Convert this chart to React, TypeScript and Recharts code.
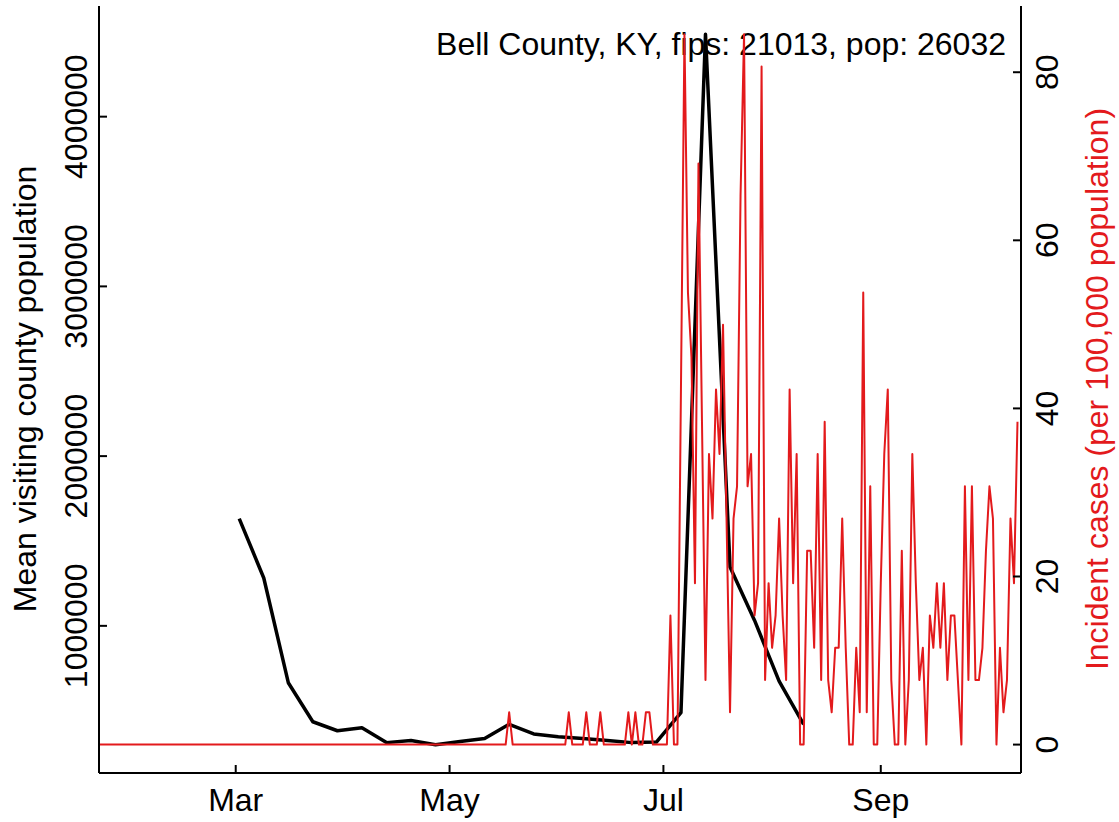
import { Line, LineChart, XAxis, YAxis } from "recharts";

const countyTitle = "Bell County, KY, fips: 21013, pop: 26032";
const leftAxisTitle = "Mean visiting county population";
const rightAxisTitle = "Incident cases (per 100,000 population)";

// day of year 2020
const monthTickDays = [61, 122, 183, 245];
const monthTickLabels = ["Mar", "May", "Jul", "Sep"];
const visitTicks = [1000000, 2000000, 3000000, 4000000];
const caseTicks = [0, 20, 40, 60, 80];

// weekly mean visiting population
const visitDays = [
    62, 69, 76, 83, 90, 97, 104, 111, 118, 125, 132, 139,
    146, 153, 160, 167, 174, 181, 188, 195, 202, 209, 216, 223,
];
const meanVisitingPop = [
    1632000, 1282000, 665000, 435000, 382000, 400000, 312000, 324000, 300000, 318000, 336000, 420000,
    363000, 347000, 336000, 324000, 312000, 315000, 488000, 4485000, 1347000, 1032000, 674000, 420000,
];

// daily incident cases per 100k, starting Jan 22
const caseFirstDay = 22;
const incidentCases = [
    0, 0, 0, 0, 0, 0, 0, 0, 0, 0,
    0, 0, 0, 0, 0, 0, 0, 0, 0, 0,
    0, 0, 0, 0, 0, 0, 0, 0, 0, 0,
    0, 0, 0, 0, 0, 0, 0, 0, 0, 0,
    0, 0, 0, 0, 0, 0, 0, 0, 0, 0,
    0, 0, 0, 0, 0, 0, 0, 0, 0, 0,
    0, 0, 0, 0, 0, 0, 0, 0, 0, 0,
    0, 0, 0, 0, 0, 0, 0, 0, 0, 0,
    0, 0, 0, 0, 0, 0, 0, 0, 0, 0,
    0, 0, 0, 0, 0, 0, 0, 0, 0, 0,
    0, 0, 0, 0, 0, 0, 0, 0, 0, 0,
    0, 0, 0, 0, 0, 0, 0, 3.84, 0, 0,
    0, 0, 0, 0, 0, 0, 0, 0, 0, 0,
    0, 0, 0, 0, 3.84, 0, 0, 0, 0, 3.84,
    0, 0, 0, 3.84, 0, 0, 0, 0, 0, 0,
    0, 3.84, 0, 3.84, 0, 0, 3.84, 3.84, 0, 0,
    0, 0, 0, 15.37, 0, 0, 42.26, 84.51, 53.78, 46.1,
    19.21, 69.15, 38.41, 7.68, 34.57, 26.89, 42.26, 34.57, 49.94, 26.89,
    3.84, 26.89, 30.73, 65.3, 84.51, 30.73, 34.57, 15.37, 19.21, 80.67,
    7.68, 19.21, 11.52, 15.37, 26.89, 15.37, 7.68, 42.26, 19.21, 34.57,
    0, 0, 23.05, 23.05, 11.52, 34.57, 7.68, 38.41, 7.68, 3.84,
    11.52, 11.52, 26.89, 11.52, 0, 0, 11.52, 3.84, 53.78, 3.84,
    30.73, 0, 0, 19.21, 34.57, 42.26, 7.68, 0, 0, 23.05,
    0, 7.68, 34.57, 19.21, 7.68, 11.52, 0, 15.37, 11.52, 19.21,
    11.52, 19.21, 7.68, 15.37, 15.37, 7.68, 0, 30.73, 7.68, 30.73,
    7.68, 7.68, 11.52, 23.05, 30.73, 26.89, 0, 11.52, 3.84, 7.68,
    26.89, 19.21, 38.41,
];

const FONT = "'Liberation Sans', Arial, Helvetica, sans-serif";
const FONT_SIZE = 32;
const RED = "#E31A1C";

function LeftTick(props: any) {
    const { x, y, payload } = props;
    return (
        <g>
            <line x1={x} x2={x + 8} y1={y} y2={y} stroke="#000" strokeWidth={2} />
            <text
                transform={`translate(${x - 12},${y}) rotate(-90)`}
                textAnchor="middle"
                fontSize={FONT_SIZE}
                fontFamily={FONT}
                fill="#000"
            >
                {payload.value}
            </text>
        </g>
    );
}

function RightTick(props: any) {
    const { x, y, payload } = props;
    return (
        <g>
            <line x1={x - 8} x2={x} y1={y} y2={y} stroke="#000" strokeWidth={2} />
            <text
                transform={`translate(${x + 37},${y}) rotate(-90)`}
                textAnchor="middle"
                fontSize={FONT_SIZE}
                fontFamily={FONT}
                fill="#000"
            >
                {payload.value}
            </text>
        </g>
    );
}

function MonthTick(props: any) {
    const { x, y, payload } = props;
    const label = monthTickLabels[monthTickDays.indexOf(payload.value)];
    return (
        <g>
            <line x1={x} x2={x} y1={y - 8} y2={y} stroke="#000" strokeWidth={2} />
            <text x={x} y={y + 38} textAnchor="middle" fontSize={FONT_SIZE} fontFamily={FONT} fill="#000">
                {label}
            </text>
        </g>
    );
}

export default function App() {
    const visitData = visitDays.map((day, i) => ({ day, visits: meanVisitingPop[i] }));
    const caseData = incidentCases.map((cases, i) => ({ day: caseFirstDay + i, cases }));

    return (
        <div style={{ position: "absolute", left: 0, top: 0, width: 1119, height: 822, background: "#fff" }}>
            {/* titles sit underneath the plotted lines, like in the R output */}
            <svg width={1119} height={822} style={{ position: "absolute", left: 0, top: 0 }}>
                <text x={1006} y={55} textAnchor="end" fontSize={FONT_SIZE} fontFamily={FONT} fill="#000">
                    {countyTitle}
                </text>
                <text
                    transform="translate(36,389) rotate(-90)"
                    textAnchor="middle"
                    fontSize={FONT_SIZE}
                    fontFamily={FONT}
                    fill="#000"
                >
                    {leftAxisTitle}
                </text>
                <text
                    transform="translate(1108,389) rotate(-90)"
                    textAnchor="middle"
                    fontSize={FONT_SIZE}
                    fontFamily={FONT}
                    fill={RED}
                >
                    {rightAxisTitle}
                </text>
            </svg>
            <div style={{ position: "absolute", left: 0, top: 0 }}>
                <LineChart width={1119} height={822} margin={{ top: 6, right: 0, bottom: 0, left: 0 }}>
                    <XAxis
                        xAxisId="top"
                        orientation="top"
                        type="number"
                        dataKey="day"
                        domain={[22, 285]}
                        height={0}
                        tick={false}
                        tickLine={false}
                        axisLine={{ stroke: "#000", strokeWidth: 2 }}
                    />
                    <XAxis
                        xAxisId="main"
                        type="number"
                        dataKey="day"
                        domain={[22, 285]}
                        allowDataOverflow
                        ticks={monthTickDays}
                        interval={0}
                        height={49}
                        tickSize={0}
                        tickMargin={0}
                        tickLine={false}
                        tick={<MonthTick />}
                        axisLine={{ stroke: "#000", strokeWidth: 2 }}
                    />
                    <YAxis
                        yAxisId="visits"
                        type="number"
                        domain={[133000, 4652000]}
                        allowDataOverflow
                        ticks={visitTicks}
                        interval={0}
                        width={99}
                        tickSize={0}
                        tickMargin={0}
                        tickLine={false}
                        tick={<LeftTick />}
                        axisLine={{ stroke: "#000", strokeWidth: 2 }}
                    />
                    <YAxis
                        yAxisId="cases"
                        orientation="right"
                        type="number"
                        domain={[-3.38, 87.88]}
                        allowDataOverflow
                        ticks={caseTicks}
                        interval={0}
                        width={98}
                        tickSize={0}
                        tickMargin={0}
                        tickLine={false}
                        tick={<RightTick />}
                        axisLine={{ stroke: "#000", strokeWidth: 2 }}
                    />
                    <Line
                        data={visitData}
                        xAxisId="main"
                        yAxisId="visits"
                        dataKey="visits"
                        type="linear"
                        stroke="#000"
                        strokeWidth={3.5}
                        strokeLinejoin="round"
                        dot={false}
                        isAnimationActive={false}
                    />
                    <Line
                        data={caseData}
                        xAxisId="main"
                        yAxisId="cases"
                        dataKey="cases"
                        type="linear"
                        stroke={RED}
                        strokeWidth={2}
                        strokeLinejoin="round"
                        dot={false}
                        isAnimationActive={false}
                    />
                </LineChart>
            </div>
        </div>
    );
}
